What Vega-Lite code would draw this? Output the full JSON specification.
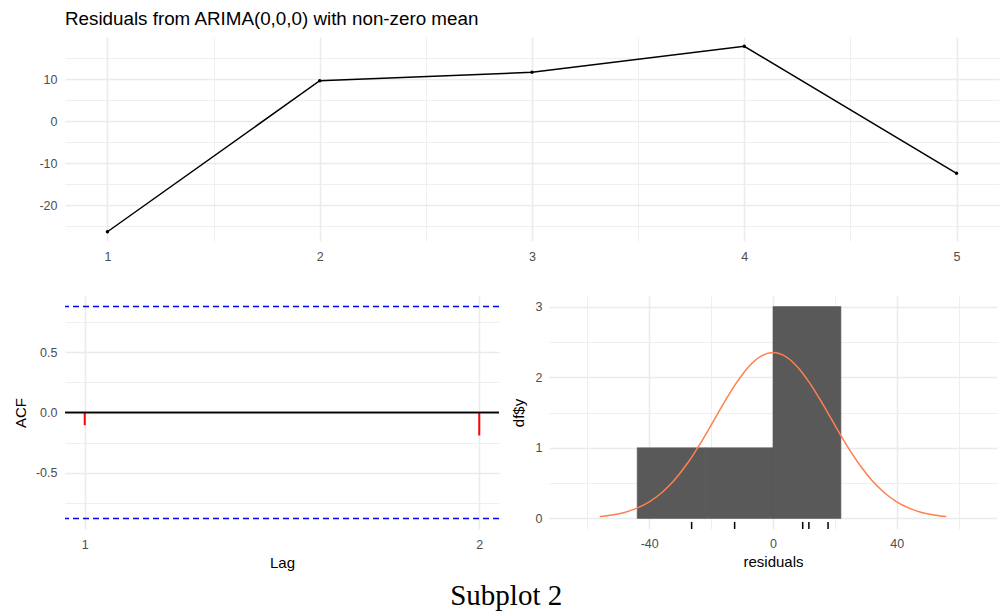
{
  "$schema": "https://vega.github.io/schema/vega-lite/v6.json",
  "background": "white",
  "padding": {"left": 13, "top": 10, "right": 7, "bottom": 5},
  "config": {
    "font": "Liberation Sans",
    "view": {"stroke": null},
    "axis": {
      "domain": false, "ticks": false, "tickSize": 0, "tickCount": 50,
      "labelColor": "#4d4d4d", "labelFontSize": 12.5, "labelFont": "Liberation Sans",
      "titleColor": "#000000", "titleFontSize": 15, "titleFontWeight": "normal", "titleFont": "Liberation Sans",
      "gridColor": "#ebebeb", "labelOverlap": false, "labelPadding": 8
    }
  },
  "title": {"text": "Subplot 2", "orient": "bottom", "anchor": "middle", "font": "Liberation Serif", "fontSize": 29, "fontWeight": "normal", "color": "#000000", "offset": 11},
  "datasets": {
    "resid": [
      {"t": 1, "residual": -26.3},
      {"t": 2, "residual": 9.6},
      {"t": 3, "residual": 11.6},
      {"t": 4, "residual": 17.8},
      {"t": 5, "residual": -12.4}
    ],
    "acf": [
      {"lag": 1, "acf": -0.105},
      {"lag": 2, "acf": -0.19}
    ],
    "ci": [
      {"bound": 0.877},
      {"bound": -0.877}
    ],
    "bins": [
      {"bin_start": -43.9, "bin_end": -21.95, "count": 1},
      {"bin_start": -21.95, "bin_end": 0, "count": 1},
      {"bin_start": 0, "bin_end": 21.95, "count": 3}
    ],
    "curve": [
      {"x": -56, "density": 0.026}, {"x": -52, "density": 0.048}, {"x": -48, "density": 0.085},
      {"x": -44, "density": 0.145}, {"x": -40, "density": 0.235}, {"x": -36, "density": 0.364},
      {"x": -32, "density": 0.538}, {"x": -28, "density": 0.76}, {"x": -24, "density": 1.025},
      {"x": -20, "density": 1.321}, {"x": -16, "density": 1.625}, {"x": -12, "density": 1.909},
      {"x": -8, "density": 2.142}, {"x": -4, "density": 2.295}, {"x": 0, "density": 2.349},
      {"x": 4, "density": 2.295}, {"x": 8, "density": 2.142}, {"x": 12, "density": 1.909},
      {"x": 16, "density": 1.625}, {"x": 20, "density": 1.321}, {"x": 24, "density": 1.025},
      {"x": 28, "density": 0.76}, {"x": 32, "density": 0.538}, {"x": 36, "density": 0.364},
      {"x": 40, "density": 0.235}, {"x": 44, "density": 0.145}, {"x": 48, "density": 0.085},
      {"x": 52, "density": 0.048}, {"x": 56, "density": 0.026}
    ]
  },
  "bounds": "flush",
  "spacing": 55,
  "vconcat": [
    {
      "title": {"text": "Residuals from ARIMA(0,0,0) with non-zero mean", "anchor": "start", "frame": "group", "fontSize": 18.8, "fontWeight": "normal", "color": "#000000", "offset": 8, "font": "Liberation Sans"},
      "width": 934,
      "height": 204,
      "data": {"name": "resid"},
      "encoding": {
        "x": {"field": "t", "type": "quantitative",
          "scale": {"domain": [0.8, 5.2], "nice": false, "zero": false},
          "axis": {"title": null, "values": [1, 1.5, 2, 2.5, 3, 3.5, 4, 4.5, 5], "tickCount": 50,
            "labelExpr": "datum.value % 1 === 0 ? format(datum.value, 'd') : ''",
            "labelPadding": 9,
            "gridWidth": {"condition": {"test": "datum.value % 1 !== 0", "value": 0.8}, "value": 1.6}}},
        "y": {"field": "residual", "type": "quantitative",
          "scale": {"domain": [-28.5, 20.0], "nice": false, "zero": false},
          "axis": {"title": null, "values": [-25, -20, -15, -10, -5, 0, 5, 10, 15], "tickCount": 50,
            "labelExpr": "datum.value % 10 === 0 ? replace(format(datum.value, 'd'), '\u2212', '-') : ''",
            "gridWidth": {"condition": {"test": "datum.value % 10 !== 0", "value": 0.8}, "value": 1.6}}}
      },
      "layer": [
        {"mark": {"type": "line", "color": "#000000", "strokeWidth": 1.5}},
        {"mark": {"type": "point", "filled": true, "color": "#000000", "size": 12, "opacity": 1}}
      ]
    },
    {
      "bounds": "flush",
      "spacing": 50,
      "hconcat": [
        {
          "width": 434,
          "height": 233,
          "layer": [
            {
              "data": {"name": "acf"},
              "mark": {"type": "rule", "color": "#FF0000", "strokeWidth": 2},
              "encoding": {
                "x": {"field": "lag", "type": "quantitative",
                  "scale": {"domain": [0.95, 2.05], "nice": false, "zero": false},
                  "axis": {"title": "Lag", "values": [1, 2], "tickCount": 50, "format": "d", "labelPadding": 9, "titlePadding": 5, "gridWidth": 1.6}},
                "y": {"field": "acf", "type": "quantitative",
                  "scale": {"domain": [-0.964, 0.964], "nice": false, "zero": false},
                  "axis": {"title": "ACF", "titlePadding": 7, "values": [-0.75, -0.5, -0.25, 0, 0.25, 0.5, 0.75], "tickCount": 50,
                    "labelExpr": "(datum.value * 2) % 1 === 0 ? replace(format(datum.value, '.1f'), '\u2212', '-') : ''",
                    "gridWidth": {"condition": {"test": "(datum.value * 2) % 1 !== 0", "value": 0.8}, "value": 1.6}}},
                "y2": {"datum": 0}
              }
            },
            {
              "data": {"name": "ci"},
              "mark": {"type": "rule", "color": "#0000FF", "strokeWidth": 1.3, "strokeDash": [6, 4]},
              "encoding": {
                "y": {"field": "bound", "type": "quantitative"}
              }
            },
            {
              "data": {"name": "acf"},
              "mark": {"type": "rule", "color": "#000000", "strokeWidth": 1.6},
              "encoding": {
                "y": {"datum": 0, "type": "quantitative"}
              }
            }
          ]
        },
        {
          "width": 448,
          "height": 233,
          "layer": [
            {
              "data": {"name": "bins"},
              "mark": {"type": "rect", "color": "#595959", "stroke": "#595959", "strokeWidth": 0.6},
              "encoding": {
                "x": {"field": "bin_start", "type": "quantitative",
                  "scale": {"domain": [-72.4, 72.4], "nice": false, "zero": false},
                  "axis": {"title": "residuals", "values": [-60, -40, -20, 0, 20, 40, 60], "tickCount": 50,
                    "labelExpr": "datum.value % 40 === 0 ? replace(format(datum.value, 'd'), '\u2212', '-') : ''",
                    "labelPadding": 8, "titlePadding": 5,
                    "gridWidth": {"condition": {"test": "datum.value % 40 !== 0", "value": 0.8}, "value": 1.6}}},
                "x2": {"field": "bin_end"},
                "y": {"field": "count", "type": "quantitative",
                  "scale": {"domain": [-0.15, 3.15], "nice": false, "zero": false},
                  "axis": {"title": "df$y", "titlePadding": 9, "labelPadding": 7, "values": [0, 0.5, 1, 1.5, 2, 2.5, 3], "tickCount": 50,
                    "labelExpr": "datum.value % 1 === 0 ? format(datum.value, 'd') : ''",
                    "gridWidth": {"condition": {"test": "datum.value % 1 !== 0", "value": 0.8}, "value": 1.6}}},
                "y2": {"datum": 0}
              }
            },
            {
              "data": {"name": "curve"},
              "mark": {"type": "line", "color": "#FF7F50", "strokeWidth": 1.5, "interpolate": "monotone"},
              "encoding": {
                "x": {"field": "x", "type": "quantitative"},
                "y": {"field": "density", "type": "quantitative"}
              }
            },
            {
              "data": {"name": "resid"},
              "mark": {"type": "rule", "color": "#000000", "strokeWidth": 1.5},
              "encoding": {
                "x": {"field": "residual", "type": "quantitative"},
                "y": {"datum": -0.15, "type": "quantitative"},
                "y2": {"datum": -0.05}
              }
            }
          ]
        }
      ]
    }
  ]
}
